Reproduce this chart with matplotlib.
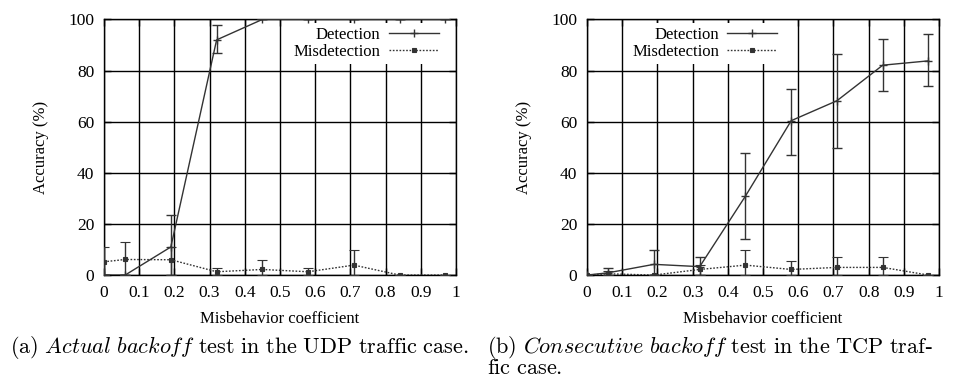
import matplotlib
matplotlib.use("Agg")
import matplotlib.pyplot as plt
from matplotlib.lines import Line2D
import numpy as np

plt.rcParams['font.family'] = ['Liberation Serif', 'DejaVu Serif']
plt.rcParams['mathtext.fontset'] = 'cm'

# ---- data ----
coef = [0, 0.06, 0.19, 0.32, 0.45, 0.58, 0.71, 0.84, 0.97]
xticks = [0, 0.1, 0.2, 0.3, 0.4, 0.5, 0.6, 0.7, 0.8, 0.9, 1]
xticklabels = ["0", "0.1", "0.2", "0.3", "0.4", "0.5", "0.6", "0.7", "0.8", "0.9", "1"]
yticks = [0, 20, 40, 60, 80, 100]

udp_det = [0, 0, 11, 92, 100, 100, 100, 100, 100]
udp_det_lo = [0, 0, 0, 86.7, 100, 100, 100, 100, 100]
udp_det_hi = [0, 0, 23.5, 98, 100, 100, 100, 100, 100]
udp_mis = [5.2, 6.1, 6, 1.3, 2.2, 1.3, 3.9, 0, 0]
udp_mis_lo = [0, 0, 0, 0, 0, 0, 0, 0, 0]
udp_mis_hi = [10.8, 12.8, 11, 2.6, 5.9, 2.6, 9.8, 0, 0]

tcp_det = [0, 0.9, 4.2, 3.3, 30.9, 60.4, 68.2, 82.1, 83.8]
tcp_det_lo = [0, 0, 0, 0, 14.3, 46.9, 49.8, 72, 73.8]
tcp_det_hi = [0, 2.6, 9.8, 7.2, 47.6, 72.8, 86.4, 92.3, 94.4]
tcp_mis = [0, 0.5, 0, 2.2, 3.9, 2.2, 3, 3, 0]
tcp_mis_lo = [0, 0, 0, 0, 0, 0, 0, 0, 0]
tcp_mis_hi = [0, 1.5, 0, 4, 9.8, 5.6, 7.2, 7.2, 0]

series_labels = ["Detection", "Misdetection"]
captions = [
    r"$\mathrm{(a)}\ \mathit{Actual\ backoff}\ \mathrm{test\ in\ the\ UDP\ traffic\ case.}$",
    r"$\mathrm{(b)}\ \mathit{Consecutive\ backoff}\ \mathrm{test\ in\ the\ TCP\ traf}$-",
]
caption_b2 = r"$\mathrm{fic\ case.}$"

fig = plt.figure(figsize=(9.7, 3.81), dpi=100)
ax1 = fig.add_axes([0.1072, 0.278, 0.3629, 0.671])
ax2 = fig.add_axes([0.6052, 0.278, 0.3629, 0.671])

C = '#333333'
DET_STYLE = dict(color=C, lw=1.0, ls='-', marker='+', ms=6, mew=1.0)
MIS_STYLE = dict(color=C, lw=1.0, ls=(0, (1.2, 1.2)), marker='s', ms=3.5, mew=0.8)

def draw(ax, det, dlo, dhi, mis, mlo, mhi, legx):
    d = np.array(det); m = np.array(mis)
    ax.errorbar(coef, det, yerr=[d - np.array(dlo), np.array(dhi) - d],
                capsize=3.5, elinewidth=1.0, capthick=1.0, zorder=4, **DET_STYLE)
    ax.errorbar(coef, mis, yerr=[m - np.array(mlo), np.array(mhi) - m],
                capsize=3.5, elinewidth=1.0, capthick=1.0, zorder=4, **MIS_STYLE)
    ax.set_xlim(0, 1)
    ax.set_ylim(0, 100)
    ax.set_xticks(xticks)
    ax.set_xticklabels(xticklabels)
    ax.set_yticks(yticks)
    ax.grid(True, color='black', lw=1.0, ls='-')
    ax.set_axisbelow(True)
    for s in ax.spines.values():
        s.set_linewidth(1.0)
        s.set_color('black')
    ax.tick_params(direction='in', top=True, right=True, length=5, width=1.0,
                   labelsize=12.5, pad=7)
    ax.set_xlabel("Misbehavior coefficient", fontsize=12, labelpad=7)
    ax.set_ylabel("Accuracy (%)", fontsize=12, labelpad=14)
    handles = [Line2D([], [], **DET_STYLE), Line2D([], [], **MIS_STYLE)]
    leg = ax.legend(handles, series_labels, loc='upper right',
                    bbox_to_anchor=(legx, 0.985), frameon=True,
                    markerfirst=False, fontsize=12, handlelength=3.0,
                    handletextpad=0.5, labelspacing=0.1, borderpad=0.2,
                    borderaxespad=0.0, fancybox=False)
    leg.get_frame().set_edgecolor('none')
    leg.get_frame().set_facecolor('white')
    leg.get_frame().set_alpha(1.0)
    leg.set_zorder(3)

draw(ax1, udp_det, udp_det_lo, udp_det_hi, udp_mis, udp_mis_lo, udp_mis_hi, 0.96)
draw(ax2, tcp_det, tcp_det_lo, tcp_det_hi, tcp_mis, tcp_mis_lo, tcp_mis_hi, 0.55)

fig.text(0.010, 0.088, captions[0], fontsize=16, ha='left', va='center')
fig.text(0.502, 0.088, captions[1], fontsize=16, ha='left', va='center')
fig.text(0.502, 0.006, caption_b2, fontsize=16, ha='left', va='bottom')

fig.savefig("out.png", dpi=100)
